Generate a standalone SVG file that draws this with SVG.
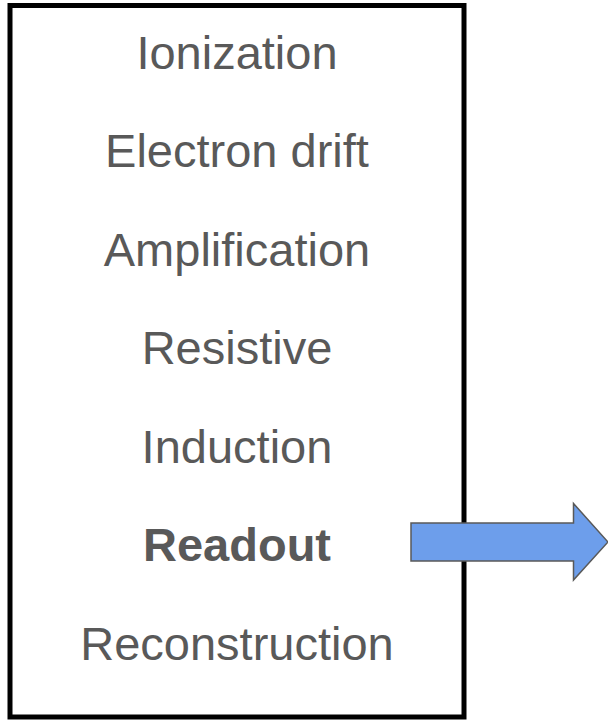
<svg xmlns="http://www.w3.org/2000/svg" width="608" height="723" viewBox="0 0 608 723">
<style>
.t{font-family:"Liberation Sans",Arial,sans-serif;font-size:47px;fill:#595959;text-anchor:middle}
.b{font-weight:bold}
</style>
<rect width="608" height="723" fill="#ffffff"/>
<g id="box">
<rect x="10" y="5.5" width="454" height="711.5" fill="#ffffff" stroke="#000000" stroke-width="5"/>
</g>
<g id="ionization"><text class="t" x="237" y="69">Ionization</text></g>
<g id="electron-drift"><text class="t" x="237" y="167">Electron drift</text></g>
<g id="amplification"><text class="t" x="237" y="266">Amplification</text></g>
<g id="resistive"><text class="t" x="237" y="364">Resistive</text></g>
<g id="induction"><text class="t" x="237" y="463">Induction</text></g>
<g id="readout"><text class="t b" x="237" y="561">Readout</text></g>
<g id="reconstruction"><text class="t" x="237" y="660">Reconstruction</text></g>
<g id="connectors">
<path d="M411,523 H573.5 V503.5 L608,542 L573.5,580 V561 H411 Z" fill="#6d9eeb" stroke="#595959" stroke-width="1.5" stroke-linejoin="miter"/>
</g>
</svg>
